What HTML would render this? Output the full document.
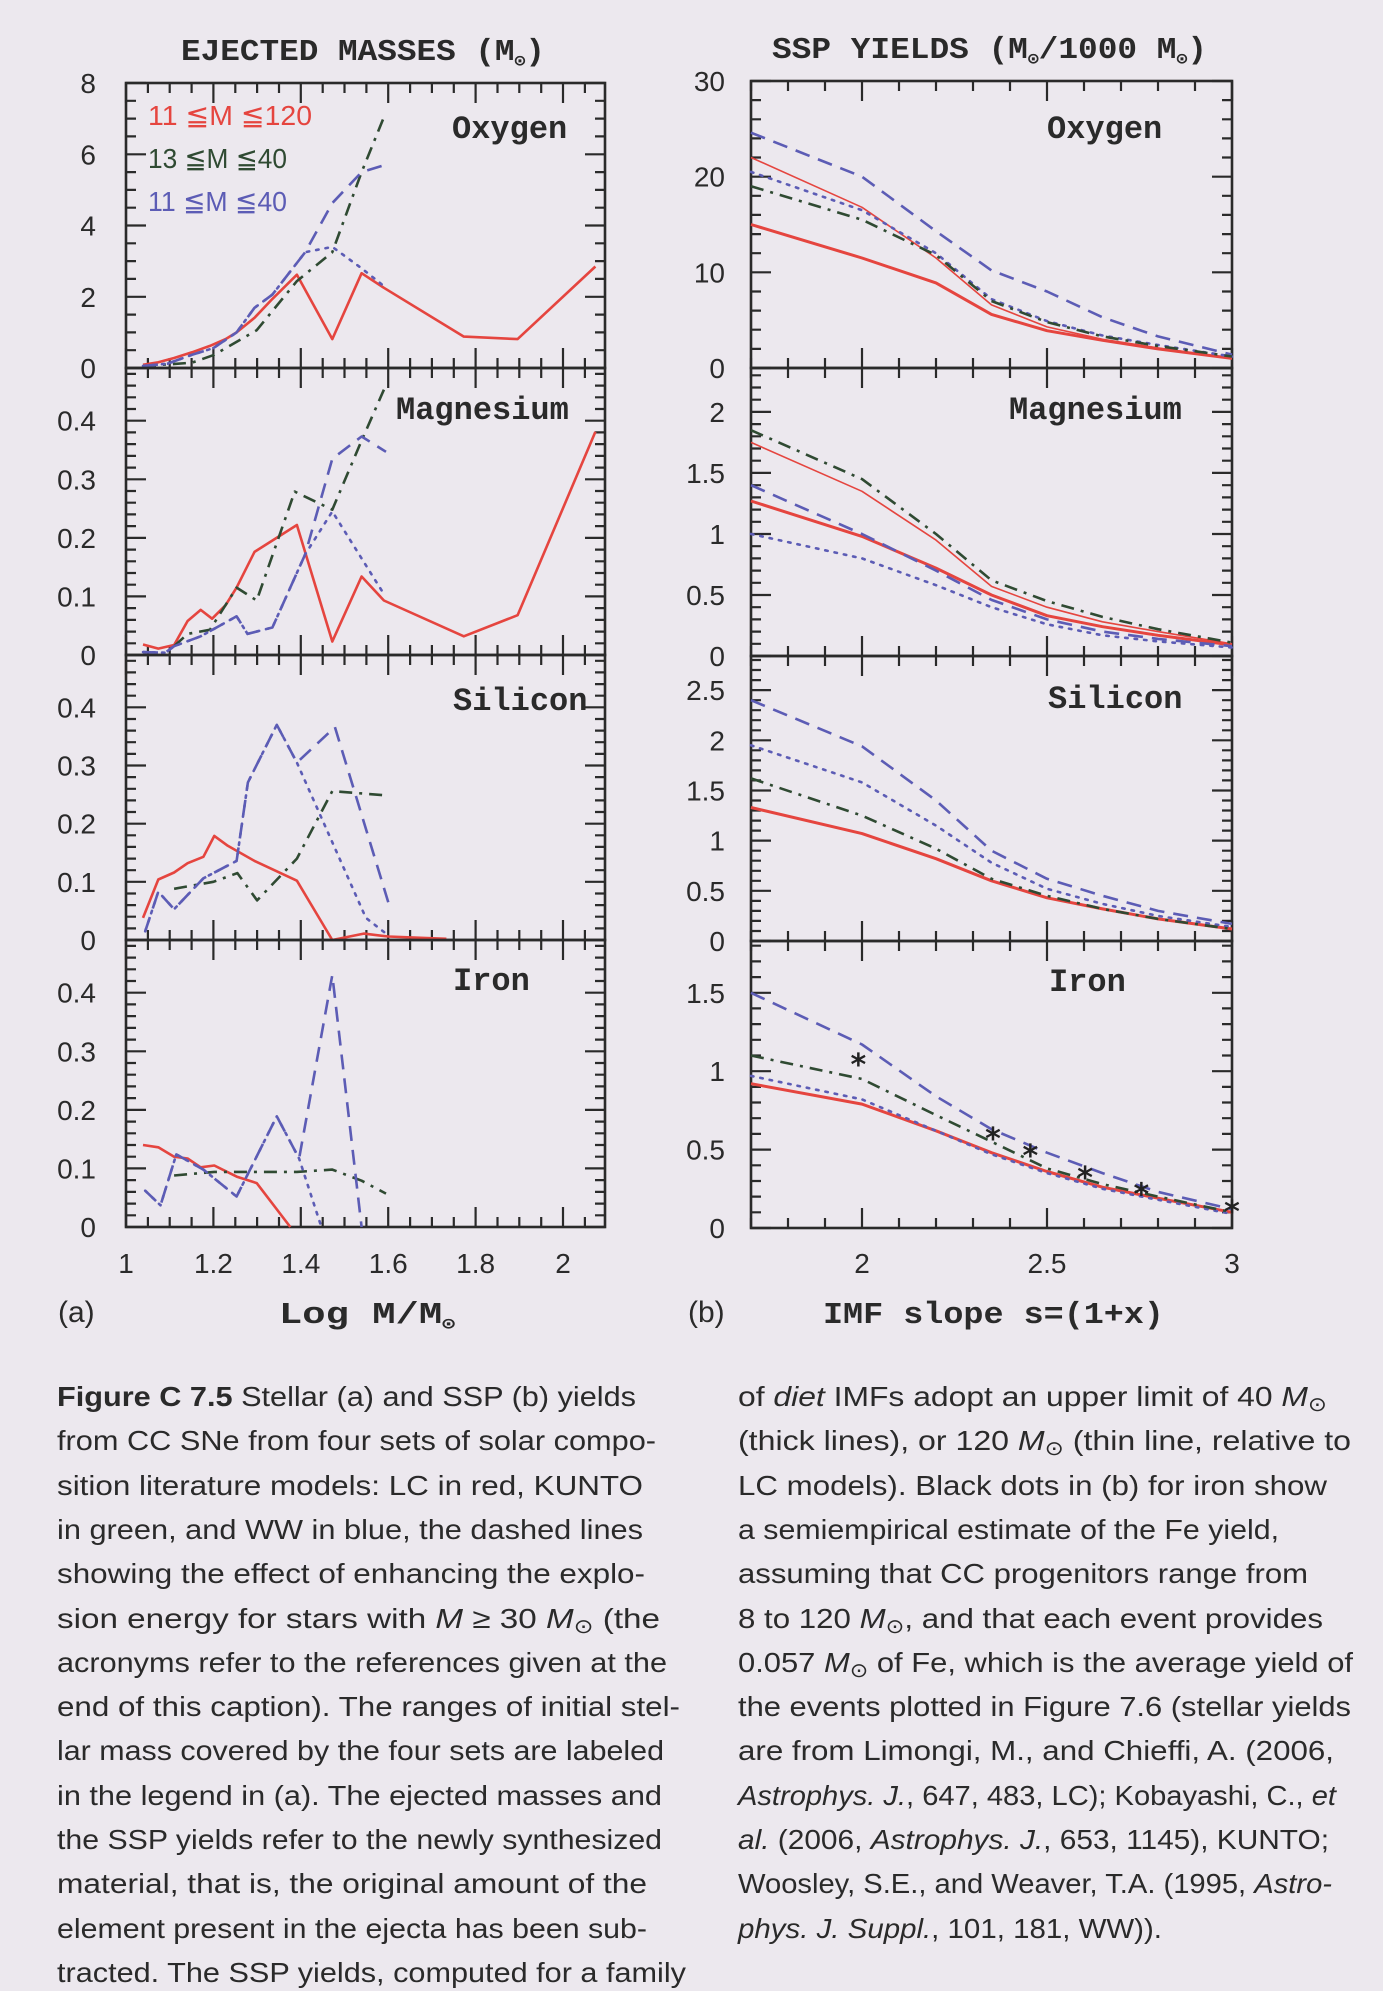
<!DOCTYPE html>
<html><head><meta charset="utf-8"><style>
html,body{margin:0;padding:0;background:#ECE8EE;}
svg{display:block;}
</style></head><body>
<svg id="fig" width="1383" height="1991" viewBox="0 0 1383 1991" xmlns="http://www.w3.org/2000/svg">
<rect x="0" y="0" width="1383" height="1991" fill="#ECE8EE"/>
<g id="charts"></g>
<g id="caption" font-family="Liberation Sans, sans-serif" font-size="28" fill="#2a2a2a">
<text x="57" y="1406" textLength="579" lengthAdjust="spacingAndGlyphs"><tspan font-weight="bold">Figure C 7.5</tspan>   Stellar (a) and SSP (b) yields</text>
<text x="57" y="1450" textLength="599" lengthAdjust="spacingAndGlyphs">from CC SNe from four sets of solar compo-</text>
<text x="57" y="1495" textLength="586" lengthAdjust="spacingAndGlyphs">sition literature models: LC in red, KUNTO</text>
<text x="57" y="1539" textLength="586" lengthAdjust="spacingAndGlyphs">in green, and WW in blue, the dashed lines</text>
<text x="57" y="1583" textLength="588" lengthAdjust="spacingAndGlyphs">showing the effect of enhancing the explo-</text>
<text x="57" y="1628" textLength="603" lengthAdjust="spacingAndGlyphs">sion energy for stars with <tspan font-style="italic">M</tspan> ≥ 30 <tspan font-style="italic">M</tspan><tspan font-size="20" dy="5">⊙</tspan><tspan dy="-5"> (the</tspan></text>
<text x="57" y="1672" textLength="610" lengthAdjust="spacingAndGlyphs">acronyms refer to the references given at the</text>
<text x="57" y="1716" textLength="623" lengthAdjust="spacingAndGlyphs">end of this caption). The ranges of initial stel-</text>
<text x="57" y="1760" textLength="607" lengthAdjust="spacingAndGlyphs">lar mass covered by the four sets are labeled</text>
<text x="57" y="1805" textLength="605" lengthAdjust="spacingAndGlyphs">in the legend in (a). The ejected masses and</text>
<text x="57" y="1849" textLength="605" lengthAdjust="spacingAndGlyphs">the SSP yields refer to the newly synthesized</text>
<text x="57" y="1893" textLength="590" lengthAdjust="spacingAndGlyphs">material, that is, the original amount of the</text>
<text x="57" y="1938" textLength="590" lengthAdjust="spacingAndGlyphs">element present in the ejecta has been sub-</text>
<text x="57" y="1982" textLength="629" lengthAdjust="spacingAndGlyphs">tracted. The SSP yields, computed for a family</text>
<text x="738" y="1406" textLength="589" lengthAdjust="spacingAndGlyphs">of <tspan font-style="italic">diet</tspan> IMFs adopt an upper limit of 40 <tspan font-style="italic">M</tspan><tspan font-size="20" dy="5">⊙</tspan></text>
<text x="738" y="1450" textLength="613" lengthAdjust="spacingAndGlyphs">(thick lines), or 120 <tspan font-style="italic">M</tspan><tspan font-size="20" dy="5">⊙</tspan><tspan dy="-5"> (thin line, relative to</tspan></text>
<text x="738" y="1495" textLength="589" lengthAdjust="spacingAndGlyphs">LC models). Black dots in (b) for iron show</text>
<text x="738" y="1539" textLength="541" lengthAdjust="spacingAndGlyphs">a semiempirical estimate of the Fe yield,</text>
<text x="738" y="1583" textLength="570" lengthAdjust="spacingAndGlyphs">assuming that CC progenitors range from</text>
<text x="738" y="1628" textLength="585" lengthAdjust="spacingAndGlyphs">8 to 120 <tspan font-style="italic">M</tspan><tspan font-size="20" dy="5">⊙</tspan><tspan dy="-5">, and that each event provides</tspan></text>
<text x="738" y="1672" textLength="615" lengthAdjust="spacingAndGlyphs">0.057 <tspan font-style="italic">M</tspan><tspan font-size="20" dy="5">⊙</tspan><tspan dy="-5"> of Fe, which is the average yield of</tspan></text>
<text x="738" y="1716" textLength="613" lengthAdjust="spacingAndGlyphs">the events plotted in Figure 7.6 (stellar yields</text>
<text x="738" y="1760" textLength="596" lengthAdjust="spacingAndGlyphs">are from Limongi, M., and Chieffi, A. (2006,</text>
<text x="738" y="1805" textLength="598" lengthAdjust="spacingAndGlyphs"><tspan font-style="italic">Astrophys. J.</tspan>, 647, 483, LC); Kobayashi, C., <tspan font-style="italic">et</tspan></text>
<text x="738" y="1849" textLength="591" lengthAdjust="spacingAndGlyphs"><tspan font-style="italic">al.</tspan> (2006, <tspan font-style="italic">Astrophys. J.</tspan>, 653, 1145), KUNTO;</text>
<text x="738" y="1893" textLength="594" lengthAdjust="spacingAndGlyphs">Woosley, S.E., and Weaver, T.A. (1995, <tspan font-style="italic">Astro-</tspan></text>
<text x="738" y="1938" textLength="424" lengthAdjust="spacingAndGlyphs"><tspan font-style="italic">phys. J. Suppl.</tspan>, 101, 181, WW)).</text>
</g>
</svg>
<script>
// ---------- LEFT: ejected masses, x = log M ----------
const oxRedX=[1.039,1.074,1.110,1.151,1.192,1.228,1.253,1.294,1.335,1.391,1.472,1.539,1.590,1.773,1.896,2.074];
const oxRedY=[0.09,0.16,0.28,0.44,0.62,0.81,1.0,1.41,1.94,2.62,0.81,2.66,2.25,0.88,0.81,2.85];
const oxGreenX=[1.039,1.095,1.151,1.202,1.299,1.391,1.472,1.539,1.590];
const oxGreenY=[0.05,0.10,0.15,0.37,1.06,2.44,3.25,5.5,7.04];
const oxBlueDotX=[1.039,1.095,1.151,1.200,1.253,1.294,1.335,1.410,1.472,1.539,1.590];
const oxBlueDotY=[0.06,0.12,0.37,0.56,1.0,1.69,2.06,3.25,3.4,2.8,2.3];
const oxBlueDashX=[1.039,1.095,1.151,1.200,1.253,1.294,1.335,1.410,1.472,1.539,1.590];
const oxBlueDashY=[0.06,0.12,0.37,0.56,1.0,1.69,2.06,3.25,4.63,5.5,5.69];

const mgRedX=[1.039,1.074,1.110,1.141,1.171,1.197,1.228,1.253,1.294,1.391,1.472,1.539,1.590,1.773,1.896,2.074];
const mgRedY=[0.018,0.011,0.017,0.058,0.077,0.062,0.085,0.115,0.176,0.222,0.023,0.134,0.093,0.032,0.068,0.381];
const mgGreenX=[1.110,1.141,1.192,1.253,1.299,1.386,1.472,1.539,1.590];
const mgGreenY=[0.015,0.036,0.043,0.115,0.093,0.279,0.248,0.366,0.453];
const mgBlueDotX=[1.039,1.090,1.110,1.171,1.253,1.278,1.335,1.410,1.472,1.590];
const mgBlueDotY=[0.005,0.004,0.015,0.032,0.066,0.036,0.047,0.172,0.245,0.104];
const mgBlueDashX=[1.039,1.090,1.110,1.171,1.253,1.278,1.335,1.410,1.472,1.539,1.595];
const mgBlueDashY=[0.005,0.004,0.015,0.032,0.066,0.036,0.047,0.172,0.335,0.373,0.347];

const siRedX=[1.039,1.074,1.110,1.141,1.177,1.202,1.233,1.294,1.391,1.472,1.544,1.600,1.733];
const siRedY=[0.038,0.104,0.116,0.132,0.143,0.179,0.162,0.136,0.102,0.0,0.011,0.006,0.002];
const siGreenX=[1.110,1.200,1.255,1.300,1.391,1.472,1.590];
const siGreenY=[0.088,0.100,0.115,0.068,0.140,0.256,0.249];
const siBlueDotX=[1.044,1.074,1.110,1.177,1.253,1.279,1.345,1.391,1.478,1.549,1.600];
const siBlueDotY=[0.015,0.083,0.053,0.106,0.136,0.271,0.370,0.305,0.158,0.038,0.008];
const siBlueDashX=[1.044,1.074,1.110,1.177,1.253,1.279,1.345,1.391,1.478,1.605];
const siBlueDashY=[0.015,0.083,0.053,0.106,0.136,0.271,0.370,0.305,0.366,0.053];

const feRedX=[1.039,1.074,1.110,1.141,1.171,1.202,1.253,1.299,1.376];
const feRedY=[0.140,0.136,0.120,0.117,0.102,0.105,0.086,0.075,0.0];
const feGreenX=[1.110,1.202,1.304,1.391,1.472,1.539,1.595];
const feGreenY=[0.088,0.094,0.094,0.094,0.098,0.079,0.057];
const feBlueDotX=[1.044,1.079,1.115,1.177,1.253,1.345,1.396,1.447];
const feBlueDotY=[0.062,0.037,0.124,0.098,0.052,0.189,0.117,0.0];
const feBlueDashX=[1.044,1.079,1.115,1.177,1.253,1.345,1.396,1.472,1.539];
const feBlueDashY=[0.062,0.037,0.124,0.098,0.052,0.189,0.117,0.430,0.0];

// ---------- RIGHT: SSP yields vs IMF slope ----------
const slopeX=[1.7,2.0,2.2,2.35,2.5,2.65,2.8,3.0];
const oxRthick=[15.0,11.5,8.9,5.6,3.9,2.9,2.0,1.0];
const oxRthin=[22.0,16.8,11.5,6.6,4.3,3.0,2.1,1.0];
const oxBdash=[24.6,20.0,14.3,10.2,8.0,5.3,3.3,1.4];
const oxBdot=[20.5,16.5,12.0,7.2,4.9,3.4,2.4,1.2];
const oxGdd=[19.0,15.5,11.8,7.0,4.8,3.3,2.3,1.2];

const mgRthick=[1.27,0.98,0.72,0.50,0.33,0.24,0.17,0.09];
const mgRthin=[1.75,1.35,0.95,0.57,0.40,0.28,0.20,0.10];
const mgBdash=[1.40,1.00,0.70,0.46,0.30,0.20,0.14,0.08];
const mgBdot=[1.00,0.80,0.58,0.40,0.26,0.17,0.12,0.07];
const mgGdd=[1.85,1.45,1.00,0.62,0.45,0.32,0.22,0.11];

const siRthick=[1.33,1.07,0.82,0.60,0.43,0.32,0.22,0.12];
const siBdash=[2.40,1.94,1.40,0.90,0.62,0.45,0.30,0.17];
const siBdot=[1.95,1.58,1.15,0.78,0.52,0.37,0.25,0.14];
const siGdd=[1.62,1.25,0.92,0.62,0.45,0.32,0.22,0.12];

const feRthick=[0.92,0.79,0.62,0.48,0.36,0.26,0.19,0.10];
const feBdash=[1.50,1.17,0.84,0.63,0.48,0.35,0.23,0.12];
const feBdot=[0.97,0.82,0.62,0.47,0.35,0.25,0.18,0.09];
const feGdd=[1.10,0.95,0.72,0.55,0.38,0.28,0.20,0.10];
const starX=[1.99,2.354,2.455,2.603,2.755,3.0];
const starY=[1.06,0.586,0.477,0.337,0.234,0.12];

const leftXTicks=["1","1.2","1.4","1.6","1.8","2"];
const rightXTicks=["2","2.5","3"];

const NS="http://www.w3.org/2000/svg";
const root=document.getElementById('charts');
const RED="#E5453F",GREEN="#2F4A32",BLUE="#5C5CB5",INK="#2a2a2a";
const DASH={solid:null,dash:"15,9",dot:"2.5,7",dd:"13,7,3,7"};

function el(tag,attrs,parent){const e=document.createElementNS(NS,tag);for(const k in attrs)e.setAttribute(k,attrs[k]);(parent||root).appendChild(e);return e;}

function makeScale(d0,d1,r0,r1){return v=>r0+(v-d0)*(r1-r0)/(d1-d0);}

function drawPanel(p){
  const g=el('g',{});
  
  
  const xs=makeScale(p.xmin,p.xmax,p.x0,p.x1), ys=makeScale(p.ymin,p.ymax,p.y1,p.y0);
  let d="";
  const eps=1e-6;
  for(let v=p.xmin; v<=p.xmax+eps; v+=p.xminor){
    const major=Math.abs(Math.round(v/p.xmajor)*p.xmajor-v)<1e-4;
    const L=major?20:10, X=xs(v).toFixed(1);
    d+=`M${X},${p.y0}v${L}M${X},${p.y1}v${-L}`;
  }
  for(let v=p.ymin; v<=p.ymax+eps; v+=p.yminor){
    const major=Math.abs(Math.round(v/p.ymajor)*p.ymajor-v)<1e-4;
    const L=major?20:10, Y=ys(v).toFixed(1);
    d+=`M${p.x0},${Y}h${L}M${p.x1},${Y}h${-L}`;
  }
  const t=el('path',{d:d,stroke:INK,'stroke-width':2.2,fill:'none'},g);
  
  
  const fr=el('rect',{x:p.x0,y:p.y0,width:p.x1-p.x0,height:p.y1-p.y0,fill:'none',stroke:INK,'stroke-width':2.6},g);
  
  
  p.ylabels.forEach(v=>{
    const tx=el('text',{x:p.x0-p.lgap,y:ys(v)+10,'text-anchor':'end','font-family':'Liberation Sans, sans-serif','font-size':28,fill:INK},g);
    tx.textContent=String(v);
    
    
  });
  const ti=el('text',{x:p.tx,y:p.y0+p.ty,'font-family':'Liberation Mono, monospace','font-size':32,fill:INK,'font-weight':'bold'},g);
  ti.textContent=p.title;
  
  
  p.series.forEach(s=>{
    const pts=s.x.map((xv,i)=>xs(xv).toFixed(1)+','+ys(s.y[i]).toFixed(1)).join(' ');
    const a={points:pts,fill:'none',stroke:s.c,'stroke-width':s.w||2.6,'stroke-linejoin':'round','stroke-linecap':s.st==='dot'?'round':'butt'};
    if(DASH[s.st])a['stroke-dasharray']=DASH[s.st];
    const pl=el('polyline',a,g);
    
    
  });
  if(p.stars){
    p.stars.x.forEach((xv,i)=>{
      const st=el('text',{x:xs(xv),y:ys(p.stars.y[i])+13,'text-anchor':'middle','font-family':'DejaVu Sans, sans-serif','font-size':30,fill:'#222','font-weight':'bold'},g);
      st.textContent='*';
      
      
    });
  }
  return {xs,ys};
}

const LX0=126,LX1=605,RX0=751,RX1=1232;
const tops=[83,368,655,940,1227];
const rtops=[81,368,656,941,1228];
const L={xmin:1,xmax:2.096,x0:LX0,x1:LX1,xminor:0.05,xmajor:0.2,lgap:30};
const R={xmin:1.7,xmax:3.0,x0:RX0,x1:RX1,xminor:0.1,xmajor:0.5,lgap:26};

const leftPanels=[
 {name:'left-oxygen-panel',title:'Oxygen',ymin:0,ymax:8,yminor:0.5,ymajor:2,ylabels:[0,2,4,6,8],tx:452,ty:55,
  series:[{n:'lc-oxygen',x:oxRedX,y:oxRedY,c:RED,st:'solid'},{n:'kunto-oxygen',x:oxGreenX,y:oxGreenY,c:GREEN,st:'dd'},
          {n:'ww-oxygen',x:oxBlueDotX,y:oxBlueDotY,c:BLUE,st:'dot'},{n:'ww-enhanced-oxygen',x:oxBlueDashX,y:oxBlueDashY,c:BLUE,st:'dash'}]},
 {name:'left-magnesium-panel',title:'Magnesium',ymin:0,ymax:0.49,yminor:0.02,ymajor:0.1,ylabels:[0,0.1,0.2,0.3,0.4],tx:396,ty:51,
  series:[{n:'lc-magnesium',x:mgRedX,y:mgRedY,c:RED,st:'solid'},{n:'kunto-magnesium',x:mgGreenX,y:mgGreenY,c:GREEN,st:'dd'},
          {n:'ww-magnesium',x:mgBlueDotX,y:mgBlueDotY,c:BLUE,st:'dot'},{n:'ww-enhanced-magnesium',x:mgBlueDashX,y:mgBlueDashY,c:BLUE,st:'dash'}]},
 {name:'left-silicon-panel',title:'Silicon',ymin:0,ymax:0.49,yminor:0.02,ymajor:0.1,ylabels:[0,0.1,0.2,0.3,0.4],tx:453,ty:55,
  series:[{n:'lc-silicon',x:siRedX,y:siRedY,c:RED,st:'solid'},{n:'kunto-silicon',x:siGreenX,y:siGreenY,c:GREEN,st:'dd'},
          {n:'ww-silicon',x:siBlueDotX,y:siBlueDotY,c:BLUE,st:'dot'},{n:'ww-enhanced-silicon',x:siBlueDashX,y:siBlueDashY,c:BLUE,st:'dash'}]},
 {name:'left-iron-panel',title:'Iron',ymin:0,ymax:0.49,yminor:0.02,ymajor:0.1,ylabels:[0,0.1,0.2,0.3,0.4],tx:453,ty:50,
  series:[{n:'lc-iron',x:feRedX,y:feRedY,c:RED,st:'solid'},{n:'kunto-iron',x:feGreenX,y:feGreenY,c:GREEN,st:'dd'},
          {n:'ww-iron',x:feBlueDotX,y:feBlueDotY,c:BLUE,st:'dot'},{n:'ww-enhanced-iron',x:feBlueDashX,y:feBlueDashY,c:BLUE,st:'dash'}]}
];
leftPanels.forEach((p,i)=>drawPanel(Object.assign({},L,p,{y0:tops[i],y1:tops[i+1]})));

const rightPanels=[
 {name:'right-oxygen-panel',title:'Oxygen',ymin:0,ymax:30,yminor:2,ymajor:10,ylabels:[0,10,20,30],tx:1047,ty:57,
  series:[{n:'lc-oxygen-ssp-thick',y:oxRthick,c:RED,st:'solid',w:3},{n:'lc-oxygen-ssp-thin',y:oxRthin,c:RED,st:'solid',w:1.6},
          {n:'ww-enhanced-oxygen-ssp',y:oxBdash,c:BLUE,st:'dash'},{n:'ww-oxygen-ssp',y:oxBdot,c:BLUE,st:'dot'},{n:'kunto-oxygen-ssp',y:oxGdd,c:GREEN,st:'dd'}]},
 {name:'right-magnesium-panel',title:'Magnesium',ymin:0,ymax:2.36,yminor:0.1,ymajor:0.5,ylabels:[0,0.5,1,1.5,2],tx:1009,ty:51,
  series:[{n:'lc-magnesium-ssp-thick',y:mgRthick,c:RED,st:'solid',w:3},{n:'lc-magnesium-ssp-thin',y:mgRthin,c:RED,st:'solid',w:1.6},
          {n:'ww-enhanced-magnesium-ssp',y:mgBdash,c:BLUE,st:'dash'},{n:'ww-magnesium-ssp',y:mgBdot,c:BLUE,st:'dot'},{n:'kunto-magnesium-ssp',y:mgGdd,c:GREEN,st:'dd'}]},
 {name:'right-silicon-panel',title:'Silicon',ymin:0,ymax:2.84,yminor:0.1,ymajor:0.5,ylabels:[0,0.5,1,1.5,2,2.5],tx:1048,ty:52,
  series:[{n:'lc-silicon-ssp',y:siRthick,c:RED,st:'solid',w:3},
          {n:'ww-enhanced-silicon-ssp',y:siBdash,c:BLUE,st:'dash'},{n:'ww-silicon-ssp',y:siBdot,c:BLUE,st:'dot'},{n:'kunto-silicon-ssp',y:siGdd,c:GREEN,st:'dd'}]},
 {name:'right-iron-panel',title:'Iron',ymin:0,ymax:1.83,yminor:0.1,ymajor:0.5,ylabels:[0,0.5,1,1.5],tx:1049,ty:50,
  series:[{n:'lc-iron-ssp',y:feRthick,c:RED,st:'solid',w:3},
          {n:'ww-enhanced-iron-ssp',y:feBdash,c:BLUE,st:'dash'},{n:'ww-iron-ssp',y:feBdot,c:BLUE,st:'dot'},{n:'kunto-iron-ssp',y:feGdd,c:GREEN,st:'dd'}],
  stars:{x:starX,y:starY}}
];
rightPanels.forEach((p,i)=>{p.series.forEach(s=>{s.x=slopeX;});drawPanel(Object.assign({},R,p,{y0:rtops[i],y1:rtops[i+1]}));});

const lxs=makeScale(1,2.096,LX0,LX1), rxs=makeScale(1.7,3.0,RX0,RX1);
leftXTicks.forEach(s=>{
  const t=el('text',{x:lxs(parseFloat(s)),y:1273,'text-anchor':'middle','font-family':'Liberation Sans, sans-serif','font-size':28,fill:INK});
  t.textContent=s;
  
  
});
rightXTicks.forEach(s=>{
  const t=el('text',{x:rxs(parseFloat(s)),y:1273,'text-anchor':'middle','font-family':'Liberation Sans, sans-serif','font-size':28,fill:INK});
  t.textContent=s;
  
  
});

function richText(x,y,parts,attrs,name){
  const t=el('text',Object.assign({x:x,y:y,fill:INK},attrs));
  
  
  parts.forEach(pp=>{const ts=el('tspan',pp.a||{},t);ts.textContent=pp.s;});
  return t;
}
const mono={'font-family':'Liberation Mono, monospace','font-size':31,'font-weight':'bold'};
const sun=(s)=>({s:'⊙',a:{'font-size':17,dy:6}});
richText(181,60,[{s:'EJECTED MASSES (M'},sun(),{s:')',a:{dy:-6}}],Object.assign({textLength:364,lengthAdjust:'spacingAndGlyphs'},mono),'left-chart-title');
richText(772,58,[{s:'SSP YIELDS (M'},sun(),{s:'/1000 M',a:{dy:-6}},sun(),{s:')',a:{dy:-6}}],Object.assign({textLength:435,lengthAdjust:'spacingAndGlyphs'},mono),'right-chart-title');
richText(279,1323,[{s:'Log M/M'},sun()],Object.assign({textLength:176,lengthAdjust:'spacingAndGlyphs'},mono),'left-x-axis-title');
richText(823,1323,[{s:'IMF slope s=(1+x)'}],Object.assign({textLength:341,lengthAdjust:'spacingAndGlyphs'},mono),'right-x-axis-title');
richText(58,1322,[{s:'(a)'}],{'font-family':'Liberation Sans, sans-serif','font-size':30},'panel-a-label');
richText(688,1322,[{s:'(b)'}],{'font-family':'Liberation Sans, sans-serif','font-size':30},'panel-b-label');

const legTxt=['11  ≦M  ≦120','13  ≦M  ≦40','11  ≦M  ≦40'];
const legCol=[RED,GREEN,BLUE];
const legLen=[164,139,139];
legTxt.forEach((s,i)=>{
  const t=el('text',{x:148,y:125+i*43,fill:legCol[i],'font-family':'Liberation Sans, sans-serif','font-size':28,textLength:legLen[i],lengthAdjust:'spacingAndGlyphs'});
  t.textContent=s;
  
  
});
</script>
</body></html>
